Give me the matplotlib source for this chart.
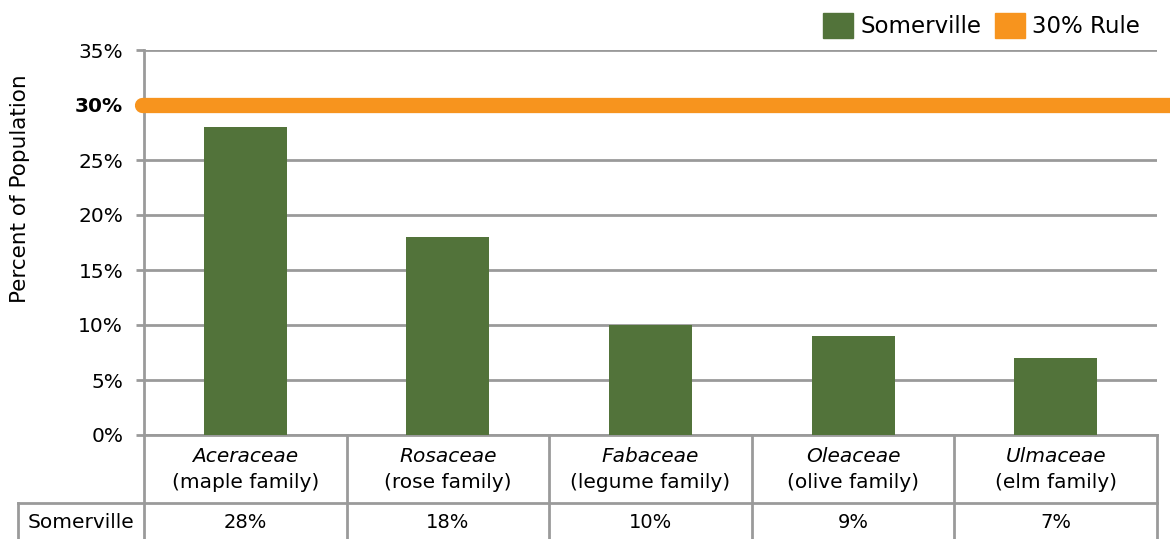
import matplotlib.pyplot as plt
from matplotlib.patches import Patch

# data
families = ['Aceraceae', 'Rosaceae', 'Fabaceae', 'Oleaceae', 'Ulmaceae']
common = ['(maple family)', '(rose family)', '(legume family)', '(olive family)', '(elm family)']
somerville = [28, 18, 10, 9, 7]
rule_value = 30
yticks = [0, 5, 10, 15, 20, 25, 30, 35]

green = '#52733a'
orange = '#f7941e'
gray = '#9a9a9a'

plt.rcParams['font.family'] = ['DejaVu Sans']

fig = plt.figure(figsize=[11.7, 5.39], dpi=100)
ax = fig.add_axes([144/1170, 1-435/539, (1157-144)/1170, (435-50)/539])

x = list(range(len(families)))
ax.bar(x, somerville, width=0.41, color=green, zorder=3)
ax.set_xlim(-0.5, 4.5)
ax.set_ylim(0, 35)

# gridlines + tick marks
ax.set_yticks(yticks)
ax.set_yticklabels(['%d%%' % t for t in yticks], fontsize=14.5)
for lab, t in zip(ax.get_yticklabels(), yticks):
    if t == rule_value:
        lab.set_fontweight('bold')
ax.tick_params(axis='y', length=6, width=2, color=gray, pad=9)
ax.tick_params(axis='x', bottom=False, labelbottom=False)
ax.grid(axis='y', color=gray, linewidth=2, zorder=0)
for s in ['top', 'right', 'bottom']:
    ax.spines[s].set_visible(False)
ax.spines['left'].set_color(gray)
ax.spines['left'].set_linewidth(2)

# 30% rule line
ax.plot([-0.51, 5.0], [rule_value, rule_value], color=orange, linewidth=11,
        solid_capstyle='round', clip_on=False, zorder=4)

# table below the axis
px = 35 / (435 - 50)  # data units per pixel (y)
row1 = -(503 - 435) * px
row2 = -(545 - 435) * px
left_cell = -0.5 - (144 - 18) / 202.6
lk = dict(color=gray, linewidth=2, clip_on=False, zorder=2)
ax.plot([-0.5, 4.5], [0, 0], **lk)
ax.plot([left_cell, 4.5], [row1, row1], **lk)
ax.plot([left_cell, left_cell], [row1, row2], **lk)
ax.plot([-0.5, -0.5], [0, row2], **lk)
for i in x:
    ax.plot([i + 0.5, i + 0.5], [0, row2], **lk)

for i in x:
    ax.text(i, -(456 - 435) * px, families[i], style='italic', fontsize=14.5,
            ha='center', va='center')
    ax.text(i, -(482 - 435) * px, common[i], fontsize=14.5, ha='center', va='center')
    ax.text(i, -(522 - 435) * px, '%d%%' % somerville[i], fontsize=14,
            ha='center', va='center')
ax.text(-0.5 - (144 - 81) / 202.6, -(522 - 435) * px, 'Somerville', fontsize=14.5,
        ha='center', va='center')

fig.text(20/1170, 1-189/539, 'Percent of Population', rotation=90, fontsize=15.5,
         ha='center', va='center')

handles = [Patch(color=green, label='Somerville'), Patch(color=orange, label='30% Rule')]
fig.legend(handles=handles, loc='upper right', bbox_to_anchor=(1-10/1170, 1.015), ncol=2,
           frameon=False, fontsize=16.5, handlelength=1.3, handleheight=1.3,
           handletextpad=0.3, columnspacing=0.6)

fig.savefig('out.png', dpi=100)
